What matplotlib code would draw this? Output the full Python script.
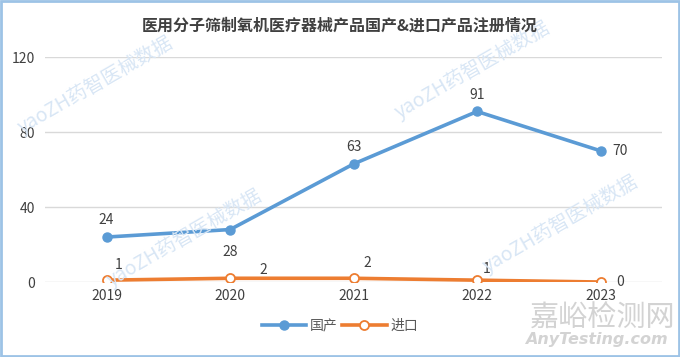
import matplotlib
matplotlib.use("Agg")
import matplotlib.pyplot as plt
from matplotlib.patches import Rectangle

plt.rcParams['font.family'] = ['Noto Sans CJK SC', 'DejaVu Sans']

years = ['2019', '2020', '2021', '2022', '2023']
domestic = [24, 28, 63, 91, 70]
imported = [1, 2, 2, 1, 0]
yticks = [0, 40, 80, 120]
title = '医用分子筛制氧机医疗器械产品国产&进口产品注册情况'
wm_text = 'yaoZH药智医械数据'

BLUE = '#5B9BD5'
ORANGE = '#ED7D31'
TXT = '#595959'

fig = plt.figure(figsize=(6.8, 3.57), dpi=100)
ax = fig.add_axes([0.066, 0.210, 0.908, 0.630])

# watermarks (behind everything)
W, H = 680, 357
for cx, cy in [(95, 85), (472, 70), (184, 238), (560, 224)]:
    fig.text(cx / W, 1 - cy / H, wm_text, ha='center', va='center', fontsize=14,
             rotation=30, rotation_mode='anchor', color='#D8E6F5', zorder=0)
fig.text(0.993, 0.108, '嘉峪检测网', ha='right', va='center', fontsize=21,
         color='#D3D3D3', zorder=0)
fig.text(0.982, 0.048, 'AnyTesting.com', ha='right', va='center', fontsize=11.5,
         color='#D3D3D3', style='italic', fontweight='bold', family='DejaVu Sans',
         zorder=0)

x = list(range(len(years)))
ax.plot(x, domestic, color=BLUE, lw=2.6, marker='o', ms=6.5,
        mfc=BLUE, mec=BLUE, label='国产', zorder=3)
ax.plot(x, imported, color=ORANGE, lw=2.6, marker='o', ms=6.5,
        mfc='white', mec=ORANGE, mew=1.3, label='进口', zorder=3)

dom_off = [(0, 12), (0, -16), (0, 12), (0, 12), (14, 0)]
imp_off = [(9, 11), (24, 6), (10, 11), (7, 8), (14, 0)]
for i, v in enumerate(domestic):
    ax.annotate(str(v), (i, v), xytext=dom_off[i], textcoords='offset points',
                ha='center', va='center', fontsize=10, color='#404040')
for i, v in enumerate(imported):
    ax.annotate(str(v), (i, v), xytext=imp_off[i], textcoords='offset points',
                ha='center', va='center', fontsize=10, color='#404040')

ax.patch.set_alpha(0)
ax.set_xlim(-0.5, len(years) - 0.5)
ax.set_ylim(0, 120)
ax.set_yticks(yticks)
ax.set_xticks(x)
ax.set_xticklabels(years)
ax.tick_params(axis='both', length=0, labelsize=10, colors='#404040')
ax.tick_params(axis='x', pad=5)
ax.tick_params(axis='y', pad=7)
ax.grid(axis='y', color='#D9D9D9', lw=1)
ax.set_axisbelow(True)
for s in ax.spines.values():
    s.set_visible(False)

fig.text(0.5, 0.927, title, ha='center', va='center', fontsize=11.5,
         fontweight='bold', color='#404040')

leg = fig.legend(loc='center', bbox_to_anchor=(0.5, 0.087), ncol=2, frameon=False,
                 fontsize=10, handlelength=3.2, columnspacing=0.3, handletextpad=0.3)
for t in leg.get_texts():
    t.set_color(TXT)

fig.patches.append(Rectangle((0.002, 0.003), 0.996, 0.994, transform=fig.transFigure,
                             fill=False, ec='#9DC3E6', lw=2))

fig.savefig('out.png', dpi=100)
